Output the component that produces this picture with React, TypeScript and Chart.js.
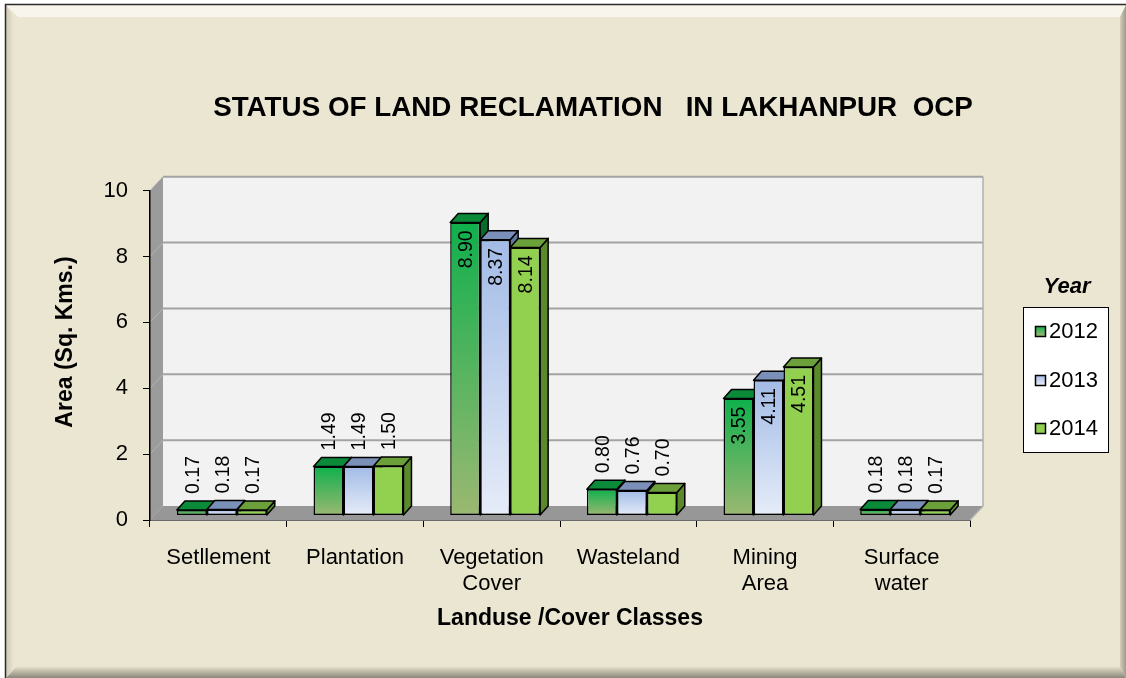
import React, { useEffect, useRef } from 'react';
import { Chart, registerables } from 'chart.js';

Chart.register(...registerables);

// ---------- data ----------
const categories: (string | string[])[] = [
  'Setllement',
  'Plantation',
  ['Vegetation', 'Cover'],
  'Wasteland',
  ['Mining', 'Area'],
  ['Surface', 'water'],
];
const years = ['2012', '2013', '2014'];
const values2012 = [0.17, 1.49, 8.9, 0.8, 3.55, 0.18];
const values2013 = [0.18, 1.49, 8.37, 0.76, 4.11, 0.18];
const values2014 = [0.17, 1.5, 8.14, 0.7, 4.51, 0.17];
const yTicks = [0, 2, 4, 6, 8, 10];

const chartTitle = 'STATUS OF LAND RECLAMATION   IN LAKHANPUR  OCP';
const yTitle = 'Area (Sq. Kms.)';
const xTitle = 'Landuse /Cover Classes';
const legendTitle = 'Year';

// ---------- styles ----------
const FONT = "'Liberation Sans', Arial, sans-serif";
const W = 1126;
const H = 678;
const WALL = { dx: 13, dy: -14 };
const BAR_SHIFT = { dx: 3.5, dy: -4.5 };
const BAR_DEPTH = { dx: 8, dy: -9 };

const palette = [
  { top: '#0b8a3a', side: '#086a2b', grad: ['#0fb04d', '#9cb872'] },
  { top: '#7a90b8', side: '#5f78a0', grad: ['#a2bbe6', '#e6ecf8'] },
  { top: '#6ca03a', side: '#5a8a2c', grad: ['#92d050', '#92d050'] },
];

function gradientFor(dsIndex: number) {
  return (c: any) => {
    const chart = c.chart;
    const y = chart.scales && chart.scales.y;
    const cols = palette[dsIndex].grad;
    if (!y || c.type !== 'data') return cols[0];
    const v = c.raw as number;
    const top = y.getPixelForValue(v);
    const base = y.getPixelForValue(0);
    if (!isFinite(top) || !isFinite(base) || top === base) return cols[0];
    const g = chart.ctx.createLinearGradient(0, top, 0, base);
    g.addColorStop(0, cols[0]);
    g.addColorStop(1, cols[1]);
    return g;
  };
}

const backgroundPlugin = {
  id: 'bg3d',
  beforeDraw(chart: any) {
    const ctx: CanvasRenderingContext2D = chart.ctx;
    ctx.save();
    // page + frame
    ctx.fillStyle = '#ffffff';
    ctx.fillRect(0, 0, W, H);
    ctx.fillStyle = '#ebe6d1';
    ctx.fillRect(5, 4, W - 5, H - 4);
    // top bevel
    ctx.fillStyle = '#f8f6ec';
    ctx.beginPath();
    ctx.moveTo(6, 5); ctx.lineTo(W, 5); ctx.lineTo(W - 6, 17); ctx.lineTo(18, 17); ctx.closePath();
    ctx.fill();
    // left bevel
    let g = ctx.createLinearGradient(6, 0, 14, 0);
    g.addColorStop(0, '#cfcab6'); g.addColorStop(1, '#ebe6d1');
    ctx.fillStyle = g;
    ctx.beginPath();
    ctx.moveTo(6, 5); ctx.lineTo(14, 17); ctx.lineTo(14, H - 10); ctx.lineTo(6, H); ctx.closePath();
    ctx.fill();
    // bottom bevel
    g = ctx.createLinearGradient(0, H - 11, 0, H);
    g.addColorStop(0, '#e2ddc8'); g.addColorStop(1, '#8b887a');
    ctx.fillStyle = g;
    ctx.beginPath();
    ctx.moveTo(6, H); ctx.lineTo(16, H - 11); ctx.lineTo(W - 6, H - 11); ctx.lineTo(W, H); ctx.closePath();
    ctx.fill();
    // right bevel
    g = ctx.createLinearGradient(W - 7, 0, W, 0);
    g.addColorStop(0, '#dcd7c3'); g.addColorStop(1, '#9d9a8b');
    ctx.fillStyle = g;
    ctx.beginPath();
    ctx.moveTo(W, 5); ctx.lineTo(W - 6, 17); ctx.lineTo(W - 6, H - 11); ctx.lineTo(W, H); ctx.closePath();
    ctx.fill();
    // dark outer border
    ctx.strokeStyle = '#2a2a2a';
    ctx.lineWidth = 1.5;
    ctx.beginPath();
    ctx.moveTo(5.5, H); ctx.lineTo(5.5, 4.5); ctx.lineTo(W, 4.5);
    ctx.stroke();

    // 3D walls
    const { x, y } = chart.scales;
    const L = x.left;
    const R = x.right;
    const B = y.getPixelForValue(0);
    const T = y.getPixelForValue(10);
    const { dx, dy } = WALL;
    // back wall
    ctx.fillStyle = '#f2f2f2';
    ctx.fillRect(L + dx, T + dy, R - L, B - T);
    // side wall
    ctx.fillStyle = '#9b9b9b';
    ctx.beginPath();
    ctx.moveTo(L, T); ctx.lineTo(L + dx, T + dy); ctx.lineTo(L + dx, B + dy); ctx.lineTo(L, B); ctx.closePath();
    ctx.fill();
    // floor
    ctx.fillStyle = '#979797';
    ctx.beginPath();
    ctx.moveTo(L, B); ctx.lineTo(L + dx, B + dy); ctx.lineTo(R + dx, B + dy); ctx.lineTo(R, B); ctx.closePath();
    ctx.fill();
    // gridlines on back wall + side wall
    yTicks.forEach((v) => {
      if (v === 0) return;
      const py = y.getPixelForValue(v);
      ctx.strokeStyle = '#a3a3a3';
      ctx.lineWidth = 2;
      ctx.beginPath();
      ctx.moveTo(L + dx, py + dy); ctx.lineTo(R + dx, py + dy);
      ctx.stroke();
      ctx.strokeStyle = '#b4b4b4';
      ctx.lineWidth = 1;
      ctx.beginPath();
      ctx.moveTo(L, py); ctx.lineTo(L + dx, py + dy);
      ctx.stroke();
    });
    // right edge of back wall
    ctx.strokeStyle = '#b0b0b0';
    ctx.lineWidth = 1.5;
    ctx.beginPath();
    ctx.moveTo(R + dx, T + dy); ctx.lineTo(R + dx, B + dy); ctx.lineTo(R, B);
    ctx.stroke();
    ctx.restore();
  },
};

const bars3dPlugin = {
  id: 'bars3d',
  beforeDatasetsDraw(chart: any) {
    const ctx: CanvasRenderingContext2D = chart.ctx;
    ctx.save();
    ctx.translate(BAR_SHIFT.dx, BAR_SHIFT.dy);
    const { dx, dy } = BAR_DEPTH;
    const all: any[] = [];
    chart.data.datasets.forEach((_: any, di: number) => {
      const meta = chart.getDatasetMeta(di);
      meta.data.forEach((el: any) => {
        const p = el.getProps(['x', 'y', 'base', 'width'], true);
        all.push({ di, ...p });
      });
    });
    ctx.lineWidth = 1.5;
    ctx.strokeStyle = '#000';
    ctx.lineJoin = 'round';
    // sides
    all.forEach((b) => {
      const r = b.x + b.width / 2;
      ctx.fillStyle = palette[b.di].side;
      ctx.beginPath();
      ctx.moveTo(r, b.y); ctx.lineTo(r + dx, b.y + dy); ctx.lineTo(r + dx, b.base + dy); ctx.lineTo(r, b.base); ctx.closePath();
      ctx.fill(); ctx.stroke();
    });
    // tops
    all.forEach((b) => {
      const l = b.x - b.width / 2;
      const r = b.x + b.width / 2;
      ctx.fillStyle = palette[b.di].top;
      ctx.beginPath();
      ctx.moveTo(l, b.y); ctx.lineTo(r, b.y); ctx.lineTo(r + dx, b.y + dy); ctx.lineTo(l + dx, b.y + dy); ctx.closePath();
      ctx.fill(); ctx.stroke();
    });
  },
  afterDatasetsDraw(chart: any) {
    const ctx: CanvasRenderingContext2D = chart.ctx;
    // data labels (still in shifted space)
    ctx.fillStyle = '#000';
    ctx.font = `19.5px ${FONT}`;
    ctx.textBaseline = 'middle';
    chart.data.datasets.forEach((ds: any, di: number) => {
      const meta = chart.getDatasetMeta(di);
      meta.data.forEach((el: any, i: number) => {
        const v = ds.data[i] as number;
        const p = el.getProps(['x', 'y'], true);
        ctx.save();
        if (v > 2) {
          ctx.translate(p.x + 1.5, p.y + 8);
          ctx.rotate(-Math.PI / 2);
          ctx.textAlign = 'right';
        } else {
          ctx.translate(p.x + 1.5, p.y - 16);
          ctx.rotate(-Math.PI / 2);
          ctx.textAlign = 'left';
        }
        ctx.fillText(v.toFixed(2), 0, 0);
        ctx.restore();
      });
    });
    ctx.restore();
  },
};

const textPlugin = {
  id: 'texts',
  afterDraw(chart: any) {
    const ctx: CanvasRenderingContext2D = chart.ctx;
    ctx.save();
    ctx.fillStyle = '#000';
    ctx.textBaseline = 'middle';
    ctx.textAlign = 'center';
    // chart title
    ctx.font = `bold 27.8px ${FONT}`;
    ctx.fillText(chartTitle, 593, 108);
    // x title
    ctx.font = `bold 23px ${FONT}`;
    ctx.fillText(xTitle, 570, 619);
    // y title
    ctx.save();
    ctx.translate(66, 342);
    ctx.rotate(-Math.PI / 2);
    ctx.fillText(yTitle, 0, 0);
    ctx.restore();

    // legend
    ctx.font = `italic bold 22px ${FONT}`;
    ctx.fillText(legendTitle, 1067, 287);
    ctx.fillStyle = '#ffffff';
    ctx.fillRect(1023.5, 307.5, 85, 145);
    ctx.strokeStyle = '#000';
    ctx.lineWidth = 1;
    ctx.strokeRect(1023.5, 307.5, 85, 145);
    const rows = [331, 380, 428];
    ctx.font = `22px ${FONT}`;
    ctx.textAlign = 'left';
    chart.data.datasets.forEach((ds: any, di: number) => {
      const cy = rows[di];
      const cols = palette[di].grad;
      const g = ctx.createLinearGradient(0, cy - 5, 0, cy + 5);
      g.addColorStop(0, cols[0]);
      g.addColorStop(1, cols[1]);
      ctx.fillStyle = g;
      ctx.fillRect(1035.5, cy - 4.5, 10, 10);
      ctx.strokeStyle = '#000';
      ctx.lineWidth = 1.5;
      ctx.strokeRect(1035.5, cy - 4.5, 10, 10);
      ctx.fillStyle = '#000';
      ctx.fillText(ds.label, 1049, cy + 1);
    });
    ctx.restore();
  },
};

export default function App() {
  const ref = useRef<HTMLCanvasElement | null>(null);
  useEffect(() => {
    if (!ref.current) return;
    const seriesValues = [values2012, values2013, values2014];
    const chart = new Chart(ref.current, {
      type: 'bar',
      data: {
        labels: categories as any,
        datasets: years.map((yr, i) => ({
          label: yr,
          data: seriesValues[i],
          backgroundColor: gradientFor(i) as any,
          borderColor: '#000',
          borderWidth: 1.5,
          borderSkipped: false,
          barPercentage: 1,
          categoryPercentage: 0.658,
          clip: false as any,
        })),
      },
      options: {
        responsive: false,
        devicePixelRatio: 1,
        animation: false,
        events: [],
        layout: { padding: { left: 0, top: 190.67, right: 156, bottom: 58 } },
        plugins: {
          legend: { display: false },
          title: { display: false },
          tooltip: { enabled: false },
        },
        scales: {
          x: {
            ticks: {
              color: '#000',
              font: { family: FONT, size: 22, lineHeight: 1.18 },
              padding: 18,
              maxRotation: 0,
              autoSkip: false,
            },
            grid: { drawOnChartArea: false, offset: true, tickLength: 7, color: '#000' },
            border: { display: true, color: '#6a6a6a', width: 1 },
            afterFit: (s: any) => {
              s.height = 100;
              s.paddingLeft = 0;
              s.paddingRight = 0;
            },
          },
          y: {
            min: 0,
            max: 10,
            afterBuildTicks: (s: any) => {
              s.ticks = yTicks.map((v) => ({ value: v }));
            },
            ticks: { color: '#000', font: { family: FONT, size: 22 }, padding: 15 },
            grid: { drawOnChartArea: false, tickLength: 7, color: '#000' },
            border: { display: true, color: '#000', width: 1.5 },
            afterFit: (s: any) => {
              s.width = 150;
              s.paddingTop = 0;
              s.paddingBottom = 0;
            },
          },
        },
      },
      plugins: [backgroundPlugin, bars3dPlugin, textPlugin],
    });
    return () => chart.destroy();
  }, []);
  return (
    <div style={{ position: 'fixed', left: 0, top: 0, width: W, height: H }}>
      <canvas ref={ref} width={W} height={H} style={{ display: 'block', width: W, height: H }} />
    </div>
  );
}
